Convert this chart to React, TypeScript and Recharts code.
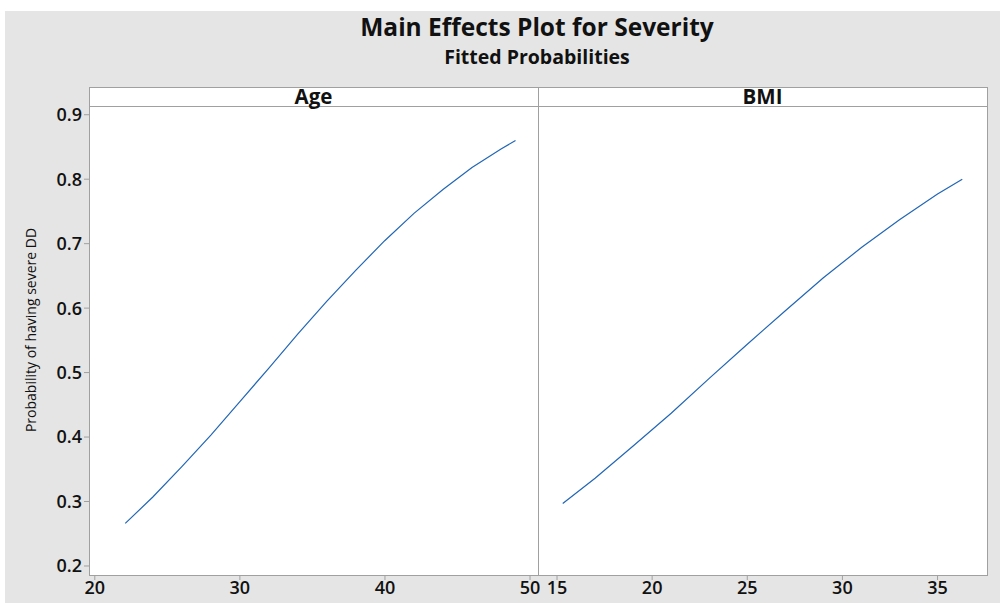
import React from "react";
import { LineChart, Line, XAxis, YAxis } from "recharts";

const ageValues = [22.1, 24, 26, 28, 30, 32, 34, 36, 38, 40, 42, 44, 46, 48, 49];
const ageProb = [0.266, 0.307, 0.354, 0.403, 0.455, 0.507, 0.56, 0.611, 0.659, 0.705, 0.747, 0.784, 0.818, 0.847, 0.86];
const bmiValues = [15.3, 17, 19, 21, 23, 25, 27, 29, 31, 33, 35, 36.3];
const bmiProb = [0.297, 0.336, 0.386, 0.437, 0.491, 0.544, 0.596, 0.647, 0.694, 0.737, 0.777, 0.8];
const ageTicks = [20, 30, 40, 50];
const bmiTicks = [15, 20, 25, 30, 35];
const probTicks = [0.2, 0.3, 0.4, 0.5, 0.6, 0.7, 0.8, 0.9];

const ageData = ageValues.map((x, i) => ({ x, p: ageProb[i] }));
const bmiData = bmiValues.map((x, i) => ({ x, p: bmiProb[i] }));

const FONT = "'Open Sans', 'Noto Sans', sans-serif";
const GRAY = "#a0a0a0";
const LINE = "#2166b5";
const Y_DOMAIN: [number, number] = [0.186, 0.912];
const tickStyle = { fill: "#111", fontSize: 18, fontWeight: 600, fontFamily: FONT };

export default function App() {
  const abs = (s: React.CSSProperties): React.CSSProperties => ({ position: "absolute", ...s });
  return (
    <div style={abs({ left: 0, top: 0, width: 1000, height: 603, background: "#fff", fontFamily: FONT, overflow: "hidden" })}>
      <div style={abs({ left: 5, top: 11, width: 995, height: 592, background: "#e5e5e5" })} />
      <div style={abs({ left: 287, top: 10, width: 500, textAlign: "center", fontSize: 24.5, fontWeight: 700, color: "#111", lineHeight: "33px" })}>
        Main Effects Plot for Severity
      </div>
      <div style={abs({ left: 287, top: 44, width: 500, textAlign: "center", fontSize: 19.5, fontWeight: 700, color: "#111", lineHeight: "26px" })}>
        Fitted Probabilities
      </div>
      <div style={abs({ left: 89, top: 87, width: 899, height: 489, background: "#fff", border: `1px solid ${GRAY}`, boxSizing: "border-box" })} />
      <div style={abs({ left: 89, top: 106, width: 899, height: 1, background: GRAY })} />
      <div style={abs({ left: 538, top: 87, width: 1, height: 489, background: GRAY })} />
      <div style={abs({ left: 89, top: 87, width: 449, textAlign: "center", fontSize: 20.5, fontWeight: 700, color: "#111", lineHeight: "19px" })}>Age</div>
      <div style={abs({ left: 538, top: 87, width: 449, textAlign: "center", fontSize: 20.5, fontWeight: 700, color: "#111", lineHeight: "19px" })}>BMI</div>
      <div style={abs({ left: 31, top: 330, width: 0, height: 0 })}>
        <div style={{ position: "absolute", left: -150, top: -9, width: 300, textAlign: "center", fontSize: 14, color: "#111", lineHeight: "18px", transform: "rotate(-90deg)", whiteSpace: "nowrap" }}>
          Probability of having severe DD
        </div>
      </div>
      <div style={abs({ left: 0, top: 0 })}>
        <LineChart width={540} height={603} data={ageData} margin={{ top: 107, left: 49, right: 2, bottom: 0 }}>
          <XAxis type="number" dataKey="x" domain={[19.6, 50.55]} ticks={ageTicks} axisLine={false} tickLine={{ stroke: GRAY }} tickSize={5} tickMargin={1} tick={tickStyle} height={28} interval={0} />
          <YAxis type="number" domain={Y_DOMAIN} ticks={probTicks} axisLine={false} tickLine={{ stroke: GRAY }} tickSize={5} tickMargin={2} tick={tickStyle} width={40} interval={0} tickFormatter={(v: number) => v.toFixed(1)} />
          <Line type="linear" dataKey="p" stroke={LINE} strokeWidth={1.2} dot={false} isAnimationActive={false} />
        </LineChart>
      </div>
      <div style={abs({ left: 538, top: 0 })}>
        <LineChart width={462} height={603} data={bmiData} margin={{ top: 107, left: 0, right: 13, bottom: 0 }}>
          <XAxis type="number" dataKey="x" domain={[14.0, 37.6]} ticks={bmiTicks} axisLine={false} tickLine={{ stroke: GRAY }} tickSize={5} tickMargin={1} tick={tickStyle} height={28} interval={0} />
          <YAxis type="number" domain={Y_DOMAIN} hide width={0} />
          <Line type="linear" dataKey="p" stroke={LINE} strokeWidth={1.2} dot={false} isAnimationActive={false} />
        </LineChart>
      </div>
    </div>
  );
}
